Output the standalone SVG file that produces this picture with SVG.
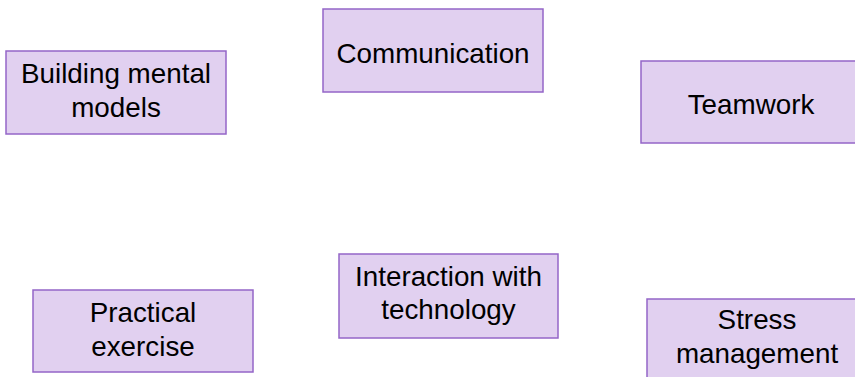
<svg xmlns="http://www.w3.org/2000/svg" width="855" height="377" viewBox="0 0 855 377">
<style>
.box{fill:#E1D0F0;stroke:#9466C8;stroke-width:1.5}
.t{font-family:"Liberation Sans",Arial,sans-serif;font-size:27.8px;fill:#000;text-anchor:middle}
</style>
<rect width="855" height="377" fill="#fff"/>
<g id="connectors"></g>
<g id="building">
<rect class="box" x="6" y="51" width="220" height="83"/>
<text class="t" x="116" y="83">Building mental</text>
<text class="t" x="116" y="117">models</text>
</g>
<g id="communication">
<rect class="box" x="323" y="9" width="220" height="83"/>
<text class="t" x="433" y="63">Communication</text>
</g>
<g id="teamwork">
<rect class="box" x="641" y="61" width="220" height="82"/>
<text class="t" x="751" y="114">Teamwork</text>
</g>
<g id="practical">
<rect class="box" x="33" y="290" width="220" height="82"/>
<text class="t" x="143" y="322">Practical</text>
<text class="t" x="143" y="356">exercise</text>
</g>
<g id="interaction">
<rect class="box" x="339" y="254" width="219" height="84"/>
<text class="t" x="448.5" y="286">Interaction with</text>
<text class="t" x="448.5" y="319">technology</text>
</g>
<g id="stress">
<rect class="box" x="647" y="299" width="220" height="83"/>
<text class="t" x="757" y="329">Stress</text>
<text class="t" x="757" y="363">management</text>
</g>
</svg>
